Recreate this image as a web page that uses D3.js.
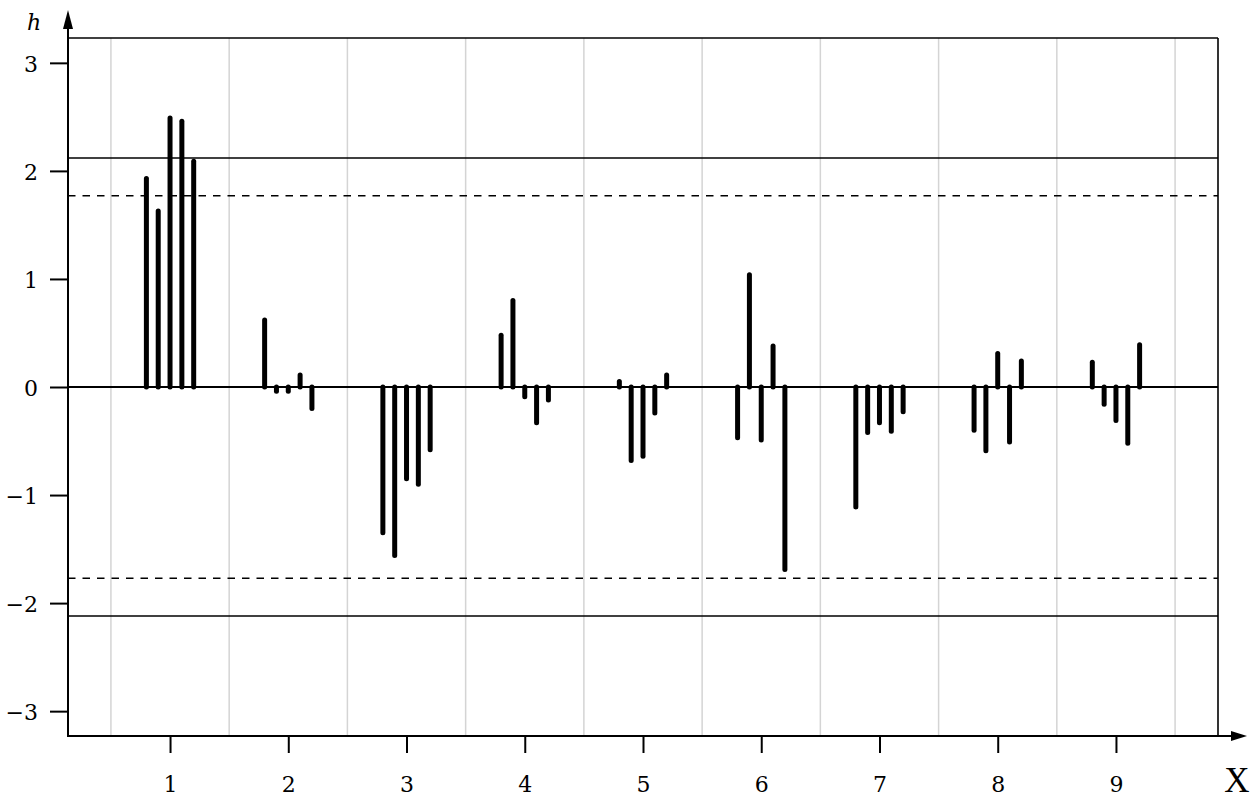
<!DOCTYPE html>
<html>
<head>
<meta charset="utf-8">
<script src="https://cdn.jsdelivr.net/npm/d3@7"></script>
<style>
  html, body { margin: 0; padding: 0; background: #fff; }
  svg { display: block; }
</style>
</head>
<body>
<svg id="chart" width="1257" height="799"></svg>
<script>
// Groups along the X axis and the five h-values per group (offsets -0.2 … +0.2)
const groups = [1, 2, 3, 4, 5, 6, 7, 8, 9];
const offsets = [-0.2, -0.1, 0, 0.1, 0.2];
const hValues = [
  [1.93, 1.63, 2.49, 2.46, 2.09],
  [0.62, -0.04, -0.04, 0.11, -0.20],
  [-1.35, -1.56, -0.85, -0.90, -0.58],
  [0.48, 0.80, -0.09, -0.33, -0.12],
  [0.05, -0.68, -0.64, -0.24, 0.11],
  [-0.47, 1.04, -0.49, 0.38, -1.69],
  [-1.11, -0.42, -0.33, -0.41, -0.23],
  [-0.40, -0.59, 0.31, -0.51, 0.24],
  [0.23, -0.16, -0.31, -0.52, 0.39]
];
// Reference levels: solid and dashed critical bounds
const solidLevels = [2.12, -2.12];
const dashedLevels = [1.77, -1.77];
const yTickValues = [-3, -2, -1, 0, 1, 2, 3];
const gridValues = [0.5, 1.5, 2.5, 3.5, 4.5, 5.5, 6.5, 7.5, 8.5, 9.5];

const svg = d3.select("#chart");
const margin = { left: 68, right: 1218, top: 38, bottom: 736 };

const x = d3.scaleLinear().domain([0.137, 9.863]).range([margin.left, margin.right]);
const y = d3.scaleLinear().domain([-3.23, 3.23]).range([margin.bottom, margin.top]);

const font = "'DejaVu Serif', 'Liberation Serif', serif";

// vertical grid
svg.append("g").selectAll("line").data(gridValues).join("line")
  .attr("x1", d => x(d)).attr("x2", d => x(d))
  .attr("y1", margin.top).attr("y2", margin.bottom)
  .attr("stroke", "#d4d4d4").attr("stroke-width", 1.5);

// box top and right
svg.append("line").attr("x1", margin.left).attr("x2", margin.right)
  .attr("y1", margin.top).attr("y2", margin.top)
  .attr("stroke", "#000").attr("stroke-width", 1.6);
svg.append("line").attr("x1", margin.right).attr("x2", margin.right)
  .attr("y1", margin.top).attr("y2", margin.bottom)
  .attr("stroke", "#000").attr("stroke-width", 1.6);

// reference lines
svg.append("g").selectAll("line").data(solidLevels).join("line")
  .attr("x1", margin.left).attr("x2", margin.right)
  .attr("y1", d => y(d)).attr("y2", d => y(d))
  .attr("stroke", "#000").attr("stroke-width", 1.6);
svg.append("g").selectAll("line").data(dashedLevels).join("line")
  .attr("x1", margin.left).attr("x2", margin.right)
  .attr("y1", d => y(d)).attr("y2", d => y(d))
  .attr("stroke", "#000").attr("stroke-width", 1.6)
  .attr("stroke-dasharray", "7.5,7");

// zero line
svg.append("line").attr("x1", margin.left).attr("x2", margin.right)
  .attr("y1", y(0)).attr("y2", y(0))
  .attr("stroke", "#000").attr("stroke-width", 1.8);

// stems
const stems = [];
groups.forEach((g, i) => {
  offsets.forEach((o, j) => stems.push({ xv: g + o, h: hValues[i][j] }));
});
svg.append("g").selectAll("line").data(stems).join("line")
  .attr("x1", d => x(d.xv)).attr("x2", d => x(d.xv))
  .attr("y1", y(0)).attr("y2", d => y(d.h))
  .attr("stroke", "#000").attr("stroke-width", 5)
  .attr("stroke-linecap", "round");

// y axis
const yAxis = d3.axisLeft(y).tickValues(yTickValues).tickSize(18).tickPadding(12)
  .tickFormat(d => d < 0 ? "\u2212" + Math.abs(d) : String(d));
const gy = svg.append("g").attr("transform", `translate(${margin.left},0)`).call(yAxis);
gy.select(".domain").remove();
gy.selectAll(".tick line").attr("stroke", "#000").attr("stroke-width", 2);
gy.selectAll(".tick text")
  .style("font-family", font).style("font-size", "22px").attr("fill", "#000")
  .attr("dy", "0.38em");

// x axis
const xAxis = d3.axisBottom(x).tickValues(groups).tickSize(17).tickPadding(23).tickFormat(d3.format("d"));
const gx = svg.append("g").attr("transform", `translate(0,${margin.bottom})`).call(xAxis);
gx.select(".domain").remove();
gx.selectAll(".tick line").attr("stroke", "#000").attr("stroke-width", 2);
gx.selectAll(".tick text")
  .style("font-family", font).style("font-size", "22px").attr("fill", "#000");

// axis lines with arrows
svg.append("line").attr("x1", margin.left).attr("x2", margin.left)
  .attr("y1", margin.bottom + 1).attr("y2", 26)
  .attr("stroke", "#000").attr("stroke-width", 2);
svg.append("path")
  .attr("d", `M${margin.left - 5},29 L${margin.left},10 L${margin.left + 5},29 Z`)
  .attr("fill", "#000");
svg.append("line").attr("x1", margin.left - 1).attr("x2", 1234)
  .attr("y1", margin.bottom).attr("y2", margin.bottom)
  .attr("stroke", "#000").attr("stroke-width", 2);
svg.append("path")
  .attr("d", `M1231,${margin.bottom - 5} L1247,${margin.bottom} L1231,${margin.bottom + 5} Z`)
  .attr("fill", "#000");

// axis titles
svg.append("text").attr("x", 34).attr("y", 30).attr("text-anchor", "middle")
  .style("font-family", font).style("font-style", "italic").style("font-size", "22px")
  .text("h");
svg.append("text").attr("x", 1237).attr("y", 792).attr("text-anchor", "middle")
  .style("font-family", "'Liberation Serif', serif").style("font-size", "35px")
  .text("X");
</script>
</body>
</html>
